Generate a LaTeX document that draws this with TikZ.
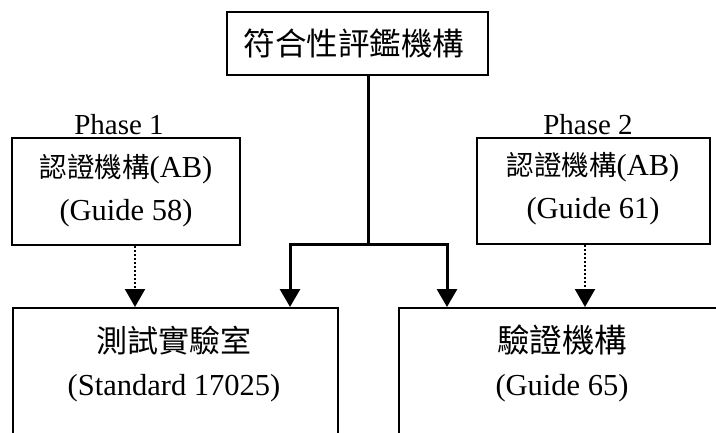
\documentclass[tikz,border=0pt]{standalone}
\usepackage{fontspec}
\setmainfont{Liberation Serif}
\newfontfamily\cjk{Noto Sans CJK TC}
\usetikzlibrary{arrows.meta}
\begin{document}
\begin{tikzpicture}[x=1pt,y=-1pt,
 box/.style={draw, line width=2pt, inner sep=0pt},
 txt/.style={align=center, font=\fontsize{30.5}{43}\selectfont, inner sep=0pt},
 phase/.style={font=\fontsize{29}{29}\selectfont, inner sep=0pt},
 solidarr/.style={line width=3pt, -{Triangle[width=20pt,length=18pt]}},
 dotarr/.style={line width=2pt, dotted, -{Triangle[width=20pt,length=18pt]}}]
\fill[white] (0,0) rectangle (716,432);
\clip (0,0) rectangle (716,432);

\node[box, minimum width=261pt, minimum height=63pt] (top) at (357.5,43.5) {};
\node[txt] (topt) at (354,43.5) {\cjk\fontsize{31.5}{31.5}\selectfont 符合性評鑑機構};

\node[phase] (ph1) at (119,125) {Phase 1};
\node[box, minimum width=228pt, minimum height=107pt] (ab1) at (126,191.5) {};
\node[txt] (ab1t) at (126,190.5) {{\cjk\fontsize{27.5}{27.5}\selectfont 認證機構}(AB)\\(Guide 58)};

\node[phase] (ph2) at (588,125) {Phase 2};
\node[box, minimum width=233pt, minimum height=106pt] (ab2) at (593.5,191) {};
\node[txt] (ab2t) at (593,188.5) {{\cjk\fontsize{27.5}{27.5}\selectfont 認證機構}(AB)\\(Guide 61)};

\node[box, anchor=north west, minimum width=325pt, minimum height=200pt] (lab) at (12,307) {};
\node[txt] (labt) at (174,364) {{\cjk\fontsize{31}{31}\selectfont 測試實驗室}\\(Standard 17025)};

\node[box, anchor=north west, minimum width=360pt, minimum height=200pt] (ver) at (398,307) {};
\node[txt] (vert) at (562,363) {{\cjk\fontsize{32.5}{32.5}\selectfont 驗證機構}\\(Guide 65)};

\coordinate (j) at (368,244);
\coordinate (jl) at (290,244);
\coordinate (jr) at (447,244);
\coordinate (d1) at (135,0);
\coordinate (d2) at (585,0);
\draw[line width=3pt] (top.south -| j) -- (j);
\draw[solidarr] (j) -- (jl) -- (jl |- lab.north);
\draw[solidarr] (j) -- (jr) -- (jr |- ver.north);
\draw[dotarr] (ab1.south -| d1) -- (lab.north -| d1);
\draw[dotarr] (ab2.south -| d2) -- (ver.north -| d2);
\end{tikzpicture}
\end{document}
